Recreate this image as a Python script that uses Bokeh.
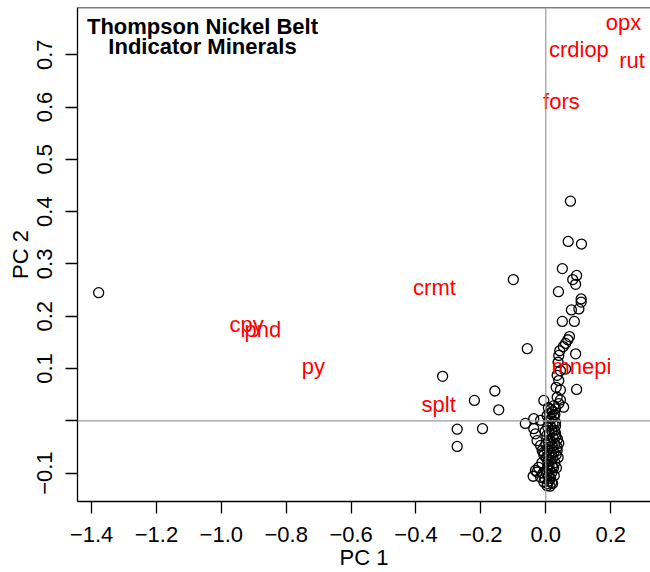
from bokeh.plotting import figure
from bokeh.models import FixedTicker, CustomJSTickFormatter, Span, ColumnDataSource
from bokeh.core.properties import value
from bokeh.embed import file_html
from bokeh.resources import INLINE

# PCA scores (PC1, PC2)
pc1 = [-1.378, -0.100, 0.076, 0.069, 0.110, 0.051, 0.095, 0.083, 0.092, 0.039,
       0.109, 0.109, 0.079, 0.102, 0.051, 0.088, 0.073, 0.068, 0.061, 0.054,
       0.043, 0.092, -0.057, 0.040, 0.038, 0.061, 0.045, 0.035, 0.040, 0.032,
       0.045, 0.095, -0.157, 0.035, 0.045, -0.006, 0.040, 0.055, -0.145, 0.030,
       -0.318, -0.220, -0.273, -0.195, -0.273, -0.063, -0.037, -0.016, 0.025, -0.037,
       -0.032, -0.027, -0.016, -0.011, -0.006, -0.022, -0.032, -0.039, -0.027, -0.016,
       -0.006, 0.004, 0.030, 0.035, 0.040,
       0.005, 0.010, 0.008, 0.015, 0.012, 0.005, 0.018, 0.010, 0.020, 0.006,
       0.014, 0.022, 0.009, 0.017, 0.025, 0.004, 0.012, 0.020, 0.028, 0.007,
       0.015, 0.023, 0.031, 0.003, 0.011, 0.019, 0.027, 0.006, 0.014, 0.022,
       0.030, 0.009, 0.017, 0.025, 0.004, 0.012, 0.020, 0.028, 0.016, 0.008,
       0.024, 0.028, 0.032, 0.035, 0.002, 0.001, 0.000, -0.002, 0.030, 0.036,
       0.018, 0.013, -0.003, -0.008, -0.012, -0.006, 0.026, 0.021, 0.033, 0.038]
pc2 = [0.245, 0.270, 0.420, 0.343, 0.338, 0.291, 0.278, 0.270, 0.261, 0.247,
       0.233, 0.227, 0.212, 0.214, 0.190, 0.190, 0.161, 0.155, 0.148, 0.142,
       0.134, 0.128, 0.138, 0.125, 0.112, 0.099, 0.096, 0.087, 0.077, 0.064,
       0.059, 0.060, 0.057, 0.045, 0.040, 0.039, 0.033, 0.026, 0.021, 0.023,
       0.085, 0.039, -0.016, -0.015, -0.049, -0.005, 0.004, 0.001, 0.029, -0.015,
       -0.025, -0.038, -0.047, -0.057, -0.066, -0.089, -0.095, -0.106, -0.098, -0.108,
       -0.117, -0.124, -0.024, -0.057, -0.043,
       -0.120, -0.115, -0.105, -0.110, -0.095, -0.090, -0.100, -0.085, -0.088, -0.078,
       -0.075, -0.070, -0.065, -0.062, -0.060, -0.055, -0.050, -0.048, -0.045, -0.040,
       -0.038, -0.033, -0.030, -0.028, -0.025, -0.020, -0.018, -0.012, -0.010, -0.006,
       -0.003, 0.000, 0.004, 0.008, 0.010, 0.014, 0.017, 0.012, 0.022, 0.025,
       -0.090, -0.080, -0.065, -0.050, -0.100, -0.070, -0.045, -0.020, -0.010, -0.035,
       -0.118, -0.125, -0.110, -0.100, -0.080, -0.060, -0.105, -0.120, -0.090, -0.070]

# Variable labels (scaled loadings)
var_names = ["opx", "crdiop", "rut", "fors", "crmt", "cpy", "pnd", "py", "mnepi", "splt"]
var_x = [0.2394, 0.102, 0.266, 0.048, -0.343, -0.922, -0.872, -0.716, 0.110, -0.330]
var_y = [0.761, 0.710, 0.689, 0.610, 0.255, 0.184, 0.174, 0.104, 0.104, 0.031]

title_lines = ["Thompson Nickel Belt", "Indicator Minerals"]
title_x = [-1.058, -1.058]
title_y = [0.754, 0.715]

x_ticks = [-1.4, -1.2, -1.0, -0.8, -0.6, -0.4, -0.2, 0.0, 0.2]
y_ticks = [-0.1, 0.0, 0.1, 0.2, 0.3, 0.4, 0.5, 0.6, 0.7]

FONT = "Liberation Sans"
FS = "22px"
Y_TOP = 0.7903

p = figure(width=650, height=572, x_range=(-1.4432, 0.3227), y_range=(-0.1543, Y_TOP),
           output_backend="svg", toolbar_location=None,
           min_border_left=77, min_border_top=7, min_border_right=0, min_border_bottom=71)
p.outline_line_color = None
p.grid.visible = False
p.background_fill_color = "white"

p.xaxis.ticker = FixedTicker(ticks=x_ticks)
p.yaxis.ticker = FixedTicker(ticks=y_ticks)
p.xaxis.formatter = CustomJSTickFormatter(code="return tick.toFixed(1).replace('-', '\u2212');")
p.yaxis.formatter = CustomJSTickFormatter(
    code="if (Math.abs(tick) < 1e-9) { return ''; } return tick.toFixed(1).replace('-', '\u2212');")
for ax in (p.xaxis[0], p.yaxis[0]):
    ax.major_tick_in = 0
    ax.major_tick_out = 12
    ax.minor_tick_in = 0
    ax.minor_tick_out = 0
    ax.axis_line_width = 1.3
    ax.major_tick_line_width = 1.3
    ax.major_label_text_font = FONT
    ax.major_label_text_font_size = FS
    ax.major_label_text_color = "black"
    ax.axis_label_text_font = FONT
    ax.axis_label_text_font_size = FS
    ax.axis_label_text_font_style = "normal"
    ax.axis_label_text_color = "black"
p.xaxis.axis_label = "PC 1"
p.yaxis.axis_label = "PC 2"
p.xaxis.major_label_standoff = 13
p.xaxis.axis_label_standoff = 0
p.yaxis.major_label_standoff = 13
p.yaxis.axis_label_standoff = 2
p.yaxis.major_label_orientation = "parallel"

# top border
p.add_layout(Span(location=Y_TOP, dimension="width", line_color="black", line_width=1.3))
# zero lines
p.add_layout(Span(location=0, dimension="width", line_color="#9a9a9a", line_width=1.2))
p.add_layout(Span(location=0, dimension="height", line_color="#9a9a9a", line_width=1.2))

p.scatter(pc1, pc2, marker="circle", size=10, fill_color=None, line_color="black", line_width=1.3)

src = ColumnDataSource(dict(x=var_x, y=var_y, t=var_names))
p.text(x="x", y="y", text="t", source=src, text_color="#ff0000", text_font=value(FONT),
       text_font_size=FS, text_align="center", text_baseline="alphabetic")

tsrc = ColumnDataSource(dict(x=title_x, y=title_y, t=title_lines))
p.text(x="x", y="y", text="t", source=tsrc, text_color="black", text_font=value(FONT),
       text_font_size=FS, text_font_style="bold", text_align="center", text_baseline="alphabetic")

open("out.html", "w").write(file_html(p, INLINE))
